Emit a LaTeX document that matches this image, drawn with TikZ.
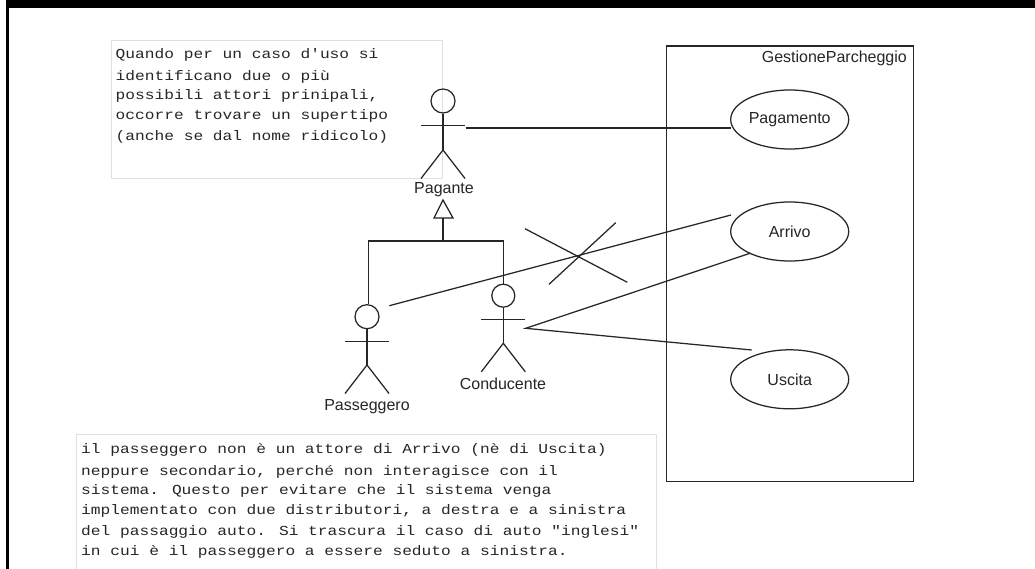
\documentclass[tikz,border=0pt]{standalone}
\usepackage{fontspec}
\setmainfont{Liberation Sans}
\newfontfamily\notefont[FakeStretch=1.175]{Liberation Mono}
\tikzset{
  x=1pt,y=-1pt,
  ln/.style={draw=black!85,line width=1.25pt},
  usecase/.style={ellipse,ln,minimum width=118pt,minimum height=59pt,inner sep=0pt,font=\fontsize{16}{18}\selectfont,text=black!85},
  lab/.style={inner sep=0pt,font=\fontsize{16}{18}\selectfont,text=black!85},
  notebox/.style={draw=black!12,line width=.8pt,fill=white},
  notetext/.style={anchor=north west,inner sep=0pt,align=left,text=black!85,font=\notefont\fontsize{13.8}{20.4}\selectfont},
}
\usetikzlibrary{shapes.geometric}
\newcommand{\actor}[6]{% name, x, headcy, r, armsy, hipy ; legs end = hip+29
  \node[circle,ln,minimum size=#4*2pt,inner sep=0pt] (#1) at (#2,#3) {};
  \draw[ln] (#1.south) -- (#2,#6);
  \draw[ln] (#2-22,#5) -- (#2+22,#5);
  \draw[ln] (#2-22,#6+28.5) -- (#2,#6) -- (#2+22,#6+28.5);
}
\begin{document}
\begin{tikzpicture}
\useasboundingbox (0,0) rectangle (1035,569);
\fill[white] (0,0) rectangle (1035,569);
\fill[black] (6,0) rectangle (1035,8);
\fill[black] (6,0) rectangle (9,569);
% notes
\path[notebox] (111,40.7) rectangle (442.7,178.7);
\node[notetext] (note1) at (115.5,48) {Quando per un caso d'uso si\\[2pt]
identificano due o più\\[-1.4pt]
possibili attori prinipali,\\
occorre trovare un supertipo\\
(anche se dal nome ridicolo)};
\path[notebox] (76,434.3) -- (76,570) -- (656.7,570) -- (656.7,434.3) -- cycle;
\node[notetext] (note2) at (81,442.8) {il passeggero non è un attore di Arrivo (nè di Uscita)\\[2pt]
neppure secondario, perché non interagisce con il\\[-1.4pt]
sistema. Questo per evitare che il sistema venga\\
implementato con due distributori, a destra e a sinistra\\
del passaggio auto. Si trascura il caso di auto "inglesi"\\
in cui è il passeggero a essere seduto a sinistra.};
% system
\node[ln,outer sep=0pt,minimum width=247pt,minimum height=435.3pt,inner sep=0pt,anchor=north west] (sys) at (666.3,46) {};
\node[lab,anchor=east] (sysname) at (907,58) {GestioneParcheggio};
\node[usecase] (pag) at (789.7,119.5) {Pagamento};
\node[usecase] (arr) at (789.7,231.5) {Arrivo};
\node[usecase] (usc) at (789.7,379.3) {Uscita};
% actors
\actor{pagante}{443}{101}{12}{125.7}{150}
\node[lab] (pagantel) at (444,190) {Pagante};
\actor{pass}{367}{316.7}{12}{341.3}{365}
\node[lab] (passl) at (367,407) {Passeggero};
\actor{cond}{503.3}{295.7}{11.5}{319.3}{343.3}
\node[lab] (condl) at (503,384) {Conducente};
% generalisation
\coordinate (apex) at (443,200);
\coordinate (jn) at (443,241);
\draw[ln,line join=miter] (apex) -- (453,218) -- (434,218) -- cycle;
\draw[ln] (443,218) -- (jn);
\draw[ln] (pass.north) ++(1.5,0) |- (jn);
\draw[ln] (cond.north) |- (jn);
% associations
\coordinate (pagS) at (465.7,128);
\coordinate (pagE) at (731,128);
\draw[ln] (pagS) -- (pagE);
\coordinate (passS) at (389.3,305.7);
\coordinate (arrE) at (731,215);
\draw[ln] (passS) -- (arrE);
\coordinate (condS) at (525.7,328.3);
\coordinate (arrF) at (750,253.3);
\coordinate (uscE) at (751.7,350);
\draw[ln] (arrF) -- (condS) -- (uscE);
% cross
\coordinate (c1) at (525,228.7);
\coordinate (c2) at (627.3,282.3);
\coordinate (c3) at (615.7,222.7);
\coordinate (c4) at (549,284.3);
\draw[ln] (c1) -- (c2);
\draw[ln] (c3) -- (c4);
\end{tikzpicture}
\end{document}
